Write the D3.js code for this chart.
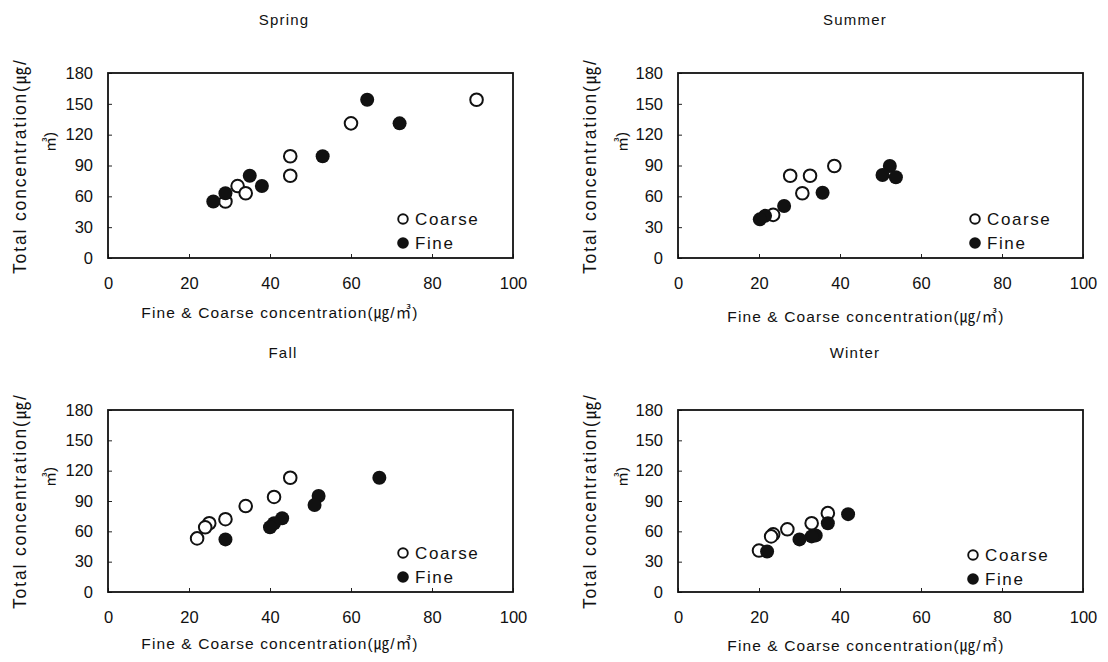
<!DOCTYPE html>
<html>
<head>
<meta charset="utf-8">
<script src="https://cdn.jsdelivr.net/npm/d3@7"></script>
<style>
  body { margin: 0; background: #fff; }
  text { font-family: "Liberation Sans", Arial, "Noto Sans CJK KR", sans-serif; fill: #111; }
</style>
</head>
<body>
<svg id="chart" width="1108" height="662"></svg>
<script>
// ---- data (x = fine/coarse concentration, y = total concentration) ----
const seasons = ["Spring", "Summer", "Fall", "Winter"];
const xTickValues = [0, 20, 40, 60, 80, 100];
const yTickValues = [0, 30, 60, 90, 120, 150, 180];
const seriesNames = ["Coarse", "Fine"];

const springCoarse = [[91,154],[60,131],[45,99],[45,80],[32,70],[34,63],[29,55]];
const springFine   = [[64,154],[72,131],[53,99],[35,80],[38,70],[29,63],[26,55]];

const summerCoarse = [[38.6,89.5],[27.7,80],[32.6,80],[30.7,63],[23.5,42]];
const summerFine   = [[52.3,89.5],[50.5,80.7],[53.8,78.5],[35.7,63.5],[26.2,50.6],[21.5,41],[20.2,37.6]];

const fallCoarse = [[45,113],[41,94],[34,85],[29,72],[25,68],[24,64],[22,53]];
const fallFine   = [[67,113],[52,95],[51,86],[43,73],[41,68],[40,64],[29,52]];

const winterCoarse = [[37,78],[33,68],[27,62],[23.5,57],[23,55],[20,41]];
const winterFine   = [[42,77],[37,68],[34,56],[33,55],[30,52],[22,40]];

const seasonData = {
  Spring: [springCoarse, springFine],
  Summer: [summerCoarse, summerFine],
  Fall:   [fallCoarse, fallFine],
  Winter: [winterCoarse, winterFine]
};

// ---- layout ----
const layout = {
  Spring: {x0: 108, x1: 513, y0: 73,  y1: 258, title: [284, 25], yt1: [20, 167], yt2: [50, 142], xt: [280, 318], legend: [403, 219]},
  Summer: {x0: 678, x1: 1083, y0: 73, y1: 258, title: [855, 25], yt1: [590, 167], yt2: [622, 142], xt: [866, 322], legend: [975, 219]},
  Fall:   {x0: 108, x1: 513, y0: 410, y1: 592, title: [283, 358], yt1: [20, 502], yt2: [50, 477], xt: [280, 649], legend: [403, 553]},
  Winter: {x0: 678, x1: 1083, y0: 410, y1: 592, title: [855, 358], yt1: [590, 502], yt2: [622, 477], xt: [866, 651], legend: [973, 555]}
};

const svg = d3.select("#chart");

seasons.forEach(season => {
  const L = layout[season];
  const [coarse, fine] = seasonData[season];
  const x = d3.scaleLinear().domain([0, 100]).range([L.x0, L.x1]);
  const y = d3.scaleLinear().domain([0, 180]).range([L.y1, L.y0]);
  const g = svg.append("g");

  // title
  g.append("text").attr("x", L.title[0]).attr("y", L.title[1])
    .attr("text-anchor", "middle").style("font-size", "15px").style("letter-spacing", "1.2px")
    .text(season);

  // axes
  const yAxis = d3.axisLeft(y).tickValues(yTickValues).tickSizeInner(-4).tickSizeOuter(0).tickPadding(15);
  const xAxis = d3.axisBottom(x).tickValues(xTickValues).tickSizeInner(-4).tickSizeOuter(0).tickPadding(19);
  const ya = g.append("g").attr("transform", `translate(${L.x0},0)`).call(yAxis);
  const xa = g.append("g").attr("transform", `translate(0,${L.y1})`).call(xAxis);
  [ya, xa].forEach(a => {
    a.select(".domain").remove();
    a.selectAll("line").attr("stroke", "#222").attr("stroke-width", 1);
    a.selectAll("text").style("font-size", "16.5px").style("font-family", "'Liberation Sans', Arial, sans-serif").attr("fill", "#111");
  });

  // frame
  g.append("rect").attr("x", L.x0).attr("y", L.y0)
    .attr("width", L.x1 - L.x0).attr("height", L.y1 - L.y0)
    .attr("fill", "none").attr("stroke", "#111").attr("stroke-width", 1.8);

  // axis titles
  g.append("text").attr("x", L.xt[0]).attr("y", L.xt[1]).attr("text-anchor", "middle")
    .style("font-size", "15.5px").style("letter-spacing", "1.1px")
    .text("Fine & Coarse concentration(㎍/㎥)");
  g.append("text").attr("transform", `translate(${L.yt1[0]},${L.yt1[1]}) rotate(-90)`)
    .attr("text-anchor", "middle").attr("dy", "0.35em")
    .attr("textLength", 214).attr("lengthAdjust", "spacing")
    .style("font-size", "17.5px")
    .text("Total concentration(㎍/");
  g.append("text").attr("transform", `translate(${L.yt2[0]},${L.yt2[1]}) rotate(-90)`)
    .attr("text-anchor", "middle").attr("dy", "0.35em")
    .style("font-size", "15px")
    .text("㎥)");

  // points: coarse first, fine on top
  g.append("g").selectAll("circle").data(coarse).join("circle")
    .attr("cx", d => x(d[0])).attr("cy", d => y(d[1])).attr("r", 6.3)
    .attr("fill", "#fff").attr("stroke", "#111").attr("stroke-width", 2);
  g.append("g").selectAll("circle").data(fine).join("circle")
    .attr("cx", d => x(d[0])).attr("cy", d => y(d[1])).attr("r", 7)
    .attr("fill", "#111");

  // legend
  const lg = g.append("g").attr("transform", `translate(${L.legend[0]},${L.legend[1]})`);
  seriesNames.forEach((name, i) => {
    const row = lg.append("g").attr("transform", `translate(0,${i * 24})`);
    if (name === "Coarse") {
      row.append("circle").attr("r", 4.8).attr("fill", "#fff").attr("stroke", "#111").attr("stroke-width", 1.9);
    } else {
      row.append("circle").attr("r", 5.8).attr("fill", "#111");
    }
    row.append("text").attr("x", 12).attr("dy", "0.36em")
      .style("font-size", "17px").style("letter-spacing", "1.6px").text(name);
  });
});
</script>
</body>
</html>
